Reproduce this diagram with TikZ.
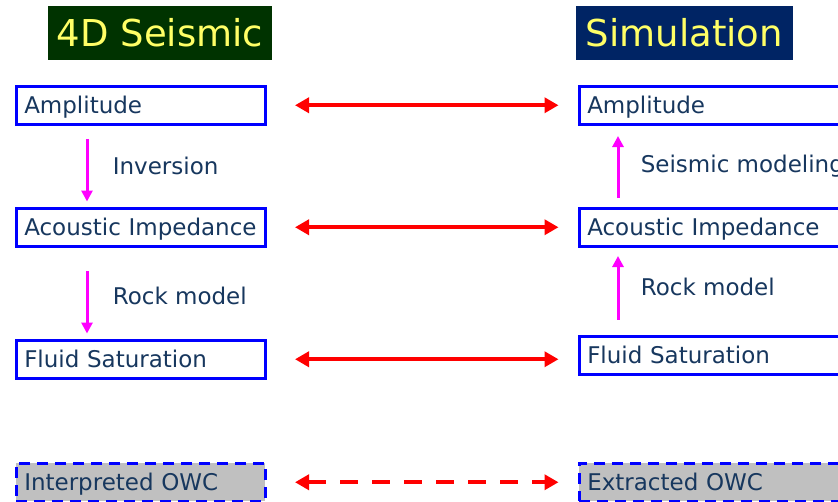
\documentclass[tikz,border=0pt]{standalone}
\usepackage{fontspec}
\setmainfont{DejaVu Sans}
\usetikzlibrary{positioning}
\usetikzlibrary{arrows.meta}

\definecolor{txtblue}{RGB}{23,55,94}
\definecolor{boxblue}{RGB}{0,0,255}
\definecolor{seisgreen}{RGB}{0,51,0}
\definecolor{simnavy}{RGB}{0,36,100}
\definecolor{titleyellow}{RGB}{255,255,102}
\definecolor{owcgray}{RGB}{192,192,192}
\definecolor{stepmagenta}{RGB}{255,0,255}
\definecolor{linkred}{RGB}{255,0,0}

\begin{document}
\begin{tikzpicture}[x=1pt,y=-1pt,
 titlebox/.style={minimum height=54pt,inner sep=0pt,text=titleyellow,font=\fontsize{37}{40}\selectfont},
 lbox/.style={draw=boxblue,line width=3.5pt,anchor=north west,text width=233pt,inner xsep=8pt,inner ysep=4pt,text height=23.5pt,text depth=6.5pt,align=left,text=txtblue,font=\fontsize{23}{26}\selectfont},
 rbox/.style={lbox,text width=320pt},
 owcbox/.style={dash pattern=on 11pt off 7pt,fill=owcgray},
 linkarrow/.style={draw=linkred,line width=4pt,{Triangle[length=14pt,width=15pt]}-{Triangle[length=14pt,width=15pt]},shorten <=28pt,shorten >=19pt},
 steparrow/.style={draw=stepmagenta,line width=3pt,-{Triangle[length=11pt,width=11pt]}},
 steplabel/.style={text=txtblue,font=\fontsize{23}{26}\selectfont,anchor=west}]
 \clip (0,0) rectangle (838,501);
 \fill[white] (0,0) rectangle (838,501);
 % titles
 \node[titlebox,fill=seisgreen,minimum width=224pt] (seis) at (160,33) {4D Seismic};
 \node[titlebox,fill=simnavy,minimum width=217pt] (sim) at (684.5,33) {Simulation};
 % 4D seismic side
 \node[lbox] (ampL) at (14.5,84.5) {Amplitude};
 \node[lbox] (aiL) at (14.5,206.5) {Acoustic Impedance};
 \node[lbox] (fsL) at (14.5,338.5) {Fluid Saturation};
 \node[lbox,owcbox] (owcL) at (14.5,461.5) {Interpreted OWC};
 % simulation side
 \node[rbox] (ampR) at (577.5,84.5) {Amplitude};
 \node[rbox] (aiR) at (577.5,206.5) {Acoustic Impedance};
 \node[rbox] (fsR) at (577.5,334.5) {Fluid Saturation};
 \node[rbox,owcbox] (owcR) at (577.5,461.5) {Extracted OWC};
 % comparisons
 \draw[linkarrow] (ampL.east) -- (ampL.east -| ampR.west);
 \draw[linkarrow] (aiL.east) -- (aiL.east -| aiR.west);
 \draw[linkarrow] (fsL.east) -- (fsL.east -| fsR.west);
 \draw[linkarrow,dash pattern=on 18pt off 14pt] (owcL.east) -- (owcL.east -| owcR.west);
 % workflow steps
 \draw[steparrow,shorten <=13pt,shorten >=5pt] ([xshift=72.5pt]ampL.south west) -- ([xshift=72.5pt]aiL.north west)
   node[steplabel,midway,right=21pt] (inv) {Inversion};
 \draw[steparrow,shorten <=23pt,shorten >=5pt] ([xshift=72.5pt]aiL.south west) -- ([xshift=72.5pt]fsL.north west)
   node[steplabel,midway,right=21pt,yshift=-3pt] (rockL) {Rock model};
 \draw[steparrow,shorten <=15pt,shorten >=8pt] ([xshift=40.5pt]fsR.north west) -- ([xshift=40.5pt]aiR.south west)
   node[steplabel,midway,right=18pt,yshift=4pt] (rockR) {Rock model};
 \draw[steparrow,shorten <=9pt,shorten >=10pt] ([xshift=40.5pt]aiR.north west) -- ([xshift=40.5pt]ampR.south west)
   node[steplabel,midway,right=18pt] (smod) {Seismic modeling};
\end{tikzpicture}
\end{document}
